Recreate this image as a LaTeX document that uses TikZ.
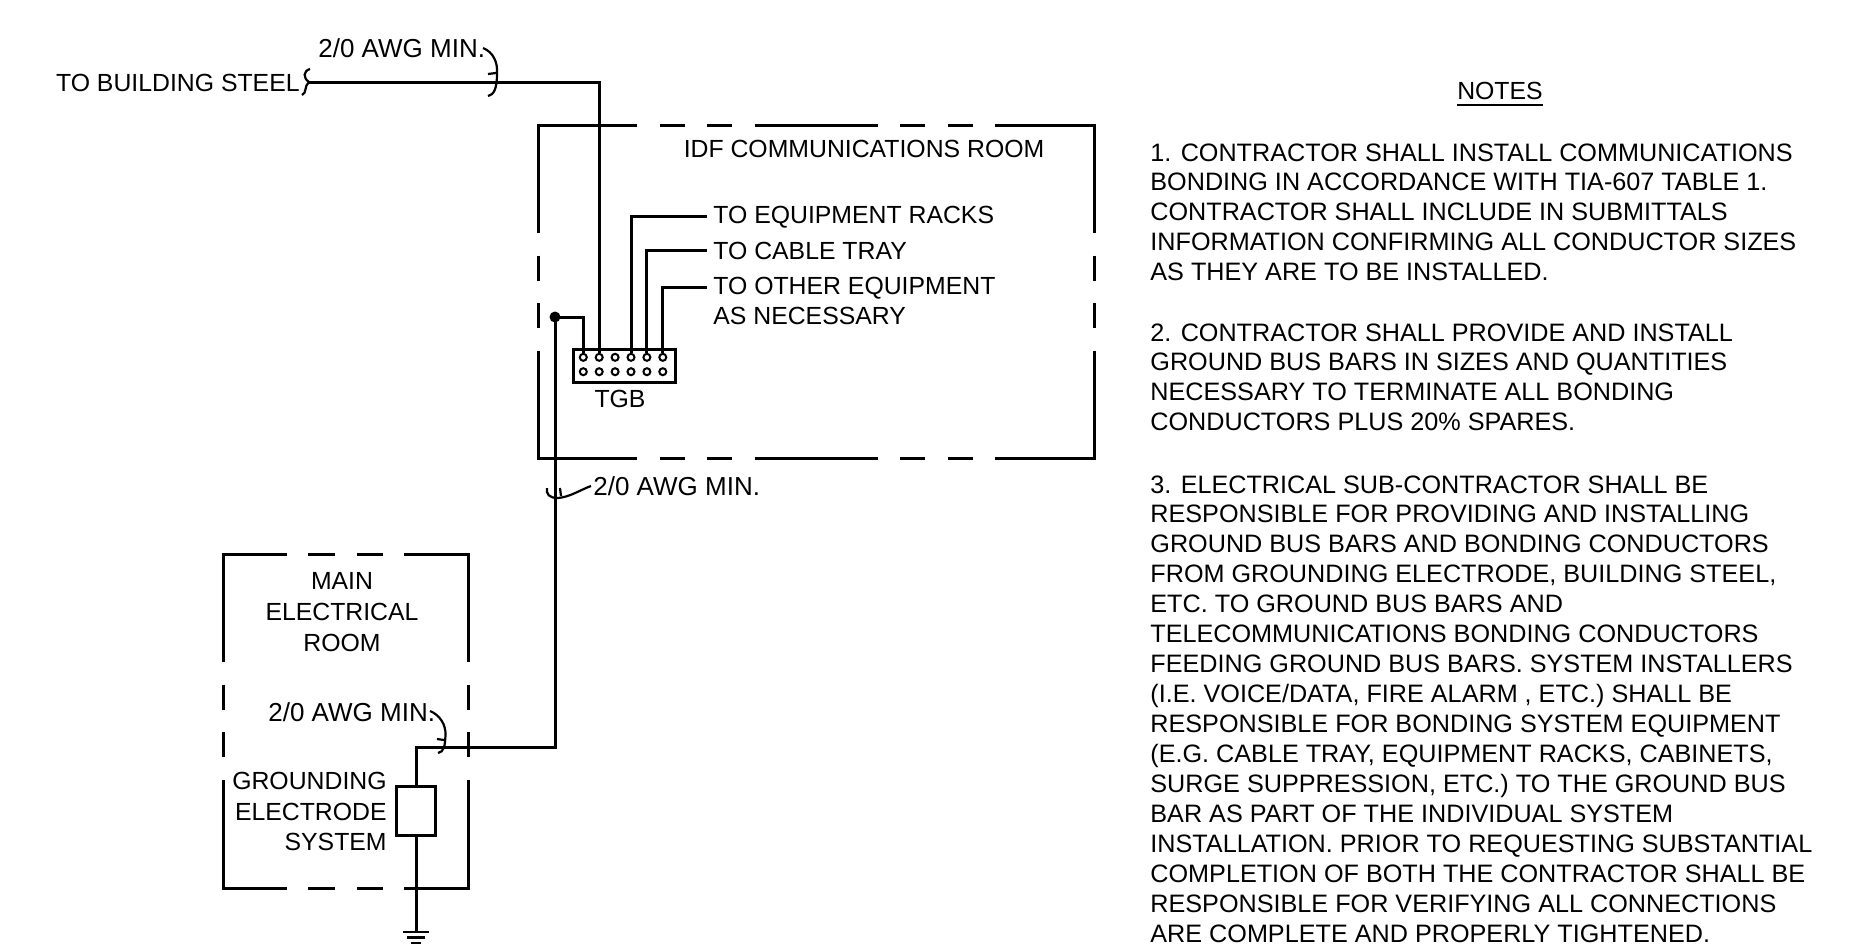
\documentclass[tikz,border=0pt]{standalone}
\usepackage{fontspec}
\setmainfont{Liberation Sans}
\begin{document}
\begin{tikzpicture}[x=0.5pt,y=-0.5pt,
  wire/.style={line width=1.5pt},
  lead/.style={line width=1.1pt},
  lbl/.style={inner sep=0pt,font=\fontsize{12.4}{15}\selectfont},
  awg/.style={inner sep=0pt,font=\fontsize{13}{15}\selectfont},
  note/.style={inner sep=0pt,align=left,anchor=north west,font=\fontsize{12.6}{14.98}\selectfont},
  term/.style={circle,draw,line width=1pt,inner sep=0pt,minimum size=3.5pt},
  tag/.style={lbl,anchor=base west,inner xsep=3pt}]
\useasboundingbox (0,0) rectangle (1854,950);

% ---------- IDF communications room (dashed outline) ----------
\draw[wire] (637,125) -- (538,125) -- (538,233);
\draw[wire] (995,125) -- (1094,125) -- (1094,233);
\draw[wire] (538,350.5) -- (538,458) -- (637,458);
\draw[wire] (1094,350.5) -- (1094,458) -- (995,458);
\foreach \a/\b in {659.5/684.5,707/732,754.5/877.5,900/925,947.5/972.5}{
  \draw[wire] (\a,125) -- (\b,125);
  \draw[wire] (\a,458) -- (\b,458);}
\foreach \a/\b in {255.5/280.5,303/328}{
  \draw[wire] (538,\a) -- (538,\b);
  \draw[wire] (1094,\a) -- (1094,\b);}

% ---------- Main electrical room (dashed outline) ----------
\draw[wire] (287,554) -- (223,554) -- (223,662);
\draw[wire] (404,554) -- (468,554) -- (468,662);
\draw[wire] (223,779.5) -- (223,888) -- (287,888);
\draw[wire] (468,779.5) -- (468,888) -- (404,888);
\foreach \a/\b in {308/335,357/383}{
  \draw[wire] (\a,554) -- (\b,554);
  \draw[wire] (\a,888) -- (\b,888);}
\foreach \a/\b in {684.5/709.5,732/757}{
  \draw[wire] (223,\a) -- (223,\b);
  \draw[wire] (468,\a) -- (468,\b);}

% ---------- labels ----------
\node[lbl,anchor=base] (idf) at (864,157) {IDF COMMUNICATIONS ROOM};
\node[lbl,anchor=base] (tgbl) at (620,407) {TGB};
\node[tag] (racks) at (707,223) {TO EQUIPMENT RACKS};
\node[tag] (tray) at (707,259) {TO CABLE TRAY};
\node[tag] (other) at (707,294) {TO OTHER EQUIPMENT};
\node[lbl,anchor=base west] (asnec) at (713,324) {AS NECESSARY};
\node[lbl,anchor=base east] (steel) at (300,91) {TO BUILDING STEEL};
\node[awg,anchor=base west] (awgA) at (318,57) {2/0 AWG MIN.};
\node[awg,anchor=base west] (awgB) at (268,721) {2/0 AWG MIN.};
\node[awg,anchor=base west] (awgC) at (593,495) {2/0 AWG MIN.};
\node[lbl,align=center,anchor=north,font=\fontsize{12.4}{15.5}\selectfont] (mer) at (342,572) {MAIN\\ELECTRICAL\\ROOM};
\node[lbl,align=right,anchor=north east,font=\fontsize{12.4}{15.25}\selectfont] (ges) at (387,772) {GROUNDING\\ELECTRODE\\SYSTEM};

% ---------- TGB ----------
\node[draw,line width=1.5pt,inner sep=0pt,minimum width=51.3pt,minimum height=16.8pt] (tgb) at (624.5,366) {};
\foreach \i in {1,...,6}{
  \node[term] (t\i) at ({583.3+15.9*(\i-1)},357.3) {};
  \node[term] (b\i) at ({583.3+15.9*(\i-1)},371.7) {};}

% ---------- wiring ----------
\draw[wire] (t4.north) |- (racks.west);
\draw[wire] (t5.north) |- (tray.west);
\draw[wire] (t6.north) |- (other.west);

\coordinate (bs) at (309,82);
\draw[wire] (bs) -| (t2.north);
\draw[lead] (310,69) .. controls (303,71) and (303,78) .. (bs) .. controls (304,86) and (307,93) .. (302,95);

\node[circle,fill,inner sep=0pt,minimum size=5.5pt] (dot) at (555,317) {};
\draw[wire] (dot.center) -| (t1.north);

\node[draw,line width=1.5pt,inner sep=0pt,minimum width=19.5pt,minimum height=24.5pt] (ge) at (416,811) {};
\coordinate (j) at (416,747);
\draw[wire] (dot.center) |- (j) -- (ge.north);

\coordinate (gnd) at (416,932);
\draw[wire] (ge.south) -- (gnd);
\draw[line width=1.1pt] ([xshift=-6.5pt]gnd) -- ([xshift=6.5pt]gnd);
\draw[line width=1.1pt] ([shift={(-4.5pt,-2.7pt)}]gnd) -- ([shift={(4.5pt,-2.7pt)}]gnd);
\draw[line width=1.1pt] ([shift={(-2.5pt,-5.4pt)}]gnd) -- ([shift={(2.5pt,-5.4pt)}]gnd);

% ---------- leader hooks ----------
\draw[lead] (483,48) .. controls (493,52) and (498,62) .. (497,74) .. controls (497,88) and (494,95) .. (488,96);
\draw[lead] (488,74) -- (496,73);
\draw[lead] (430,711) .. controls (440,715) and (446,725) .. (445.5,735) .. controls (445,746) and (444,752) .. (438,753);
\draw[lead] (437,739) -- (444,740);
\draw[lead] (591,486) .. controls (580,490) and (570,497) .. (558,498) .. controls (549,498) and (546,494) .. (547,488);
\draw[lead] (560,488) -- (561,496);

% ---------- notes ----------
\node[lbl,anchor=base,font=\fontsize{12.4}{15}\selectfont] (notes) at (1500,99) {NOTES};
\draw[line width=1pt] ([yshift=-3pt]notes.base west) -- ([yshift=-3pt]notes.base east);
\node[note] (n1) at (1150,143) {1. CONTRACTOR SHALL INSTALL COMMUNICATIONS\\BONDING IN ACCORDANCE WITH TIA-607 TABLE 1.\\CONTRACTOR SHALL INCLUDE IN SUBMITTALS\\INFORMATION CONFIRMING ALL CONDUCTOR SIZES\\AS THEY ARE TO BE INSTALLED.};
\node[note] (n2) at (1150,323) {2. CONTRACTOR SHALL PROVIDE AND INSTALL\\GROUND BUS BARS IN SIZES AND QUANTITIES\\NECESSARY TO TERMINATE ALL BONDING\\CONDUCTORS PLUS 20\% SPARES.};
\node[note] (n3) at (1150,475) {3. ELECTRICAL SUB-CONTRACTOR SHALL BE\\RESPONSIBLE FOR PROVIDING AND INSTALLING\\GROUND BUS BARS AND BONDING CONDUCTORS\\FROM GROUNDING ELECTRODE, BUILDING STEEL,\\ETC. TO GROUND BUS BARS AND\\TELECOMMUNICATIONS BONDING CONDUCTORS\\FEEDING GROUND BUS BARS. SYSTEM INSTALLERS\\(I.E. VOICE/DATA, FIRE ALARM , ETC.) SHALL BE\\RESPONSIBLE FOR BONDING SYSTEM EQUIPMENT\\(E.G. CABLE TRAY, EQUIPMENT RACKS, CABINETS,\\SURGE SUPPRESSION, ETC.) TO THE GROUND BUS\\BAR AS PART OF THE INDIVIDUAL SYSTEM\\INSTALLATION. PRIOR TO REQUESTING SUBSTANTIAL\\COMPLETION OF BOTH THE CONTRACTOR SHALL BE\\RESPONSIBLE FOR VERIFYING ALL CONNECTIONS\\ARE COMPLETE AND PROPERLY TIGHTENED.};
\end{tikzpicture}
\end{document}
